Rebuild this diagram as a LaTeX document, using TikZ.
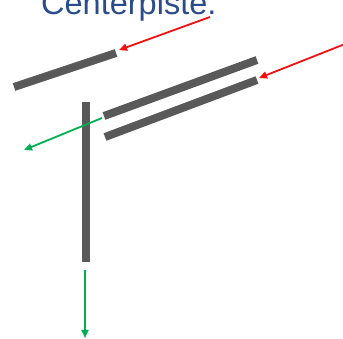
\documentclass[tikz,border=0pt]{standalone}
\usepackage{fontspec}
\setmainfont{Liberation Sans}
\usetikzlibrary{arrows.meta}
\definecolor{titleblue}{HTML}{2B4C8C}
\definecolor{bargray}{HTML}{595959}
\definecolor{arrred}{HTML}{F01010}
\definecolor{arrgreen}{HTML}{00B050}
\begin{document}
\begin{tikzpicture}[x=1pt,y=-1pt,
  bar/.style={line width=8pt,bargray},
  redarr/.style={line width=1.8pt,arrred,-{Triangle[length=8pt,width=7pt]}},
  greenarr/.style={line width=1.8pt,arrgreen,-{Triangle[length=8pt,width=7pt]}}]
\useasboundingbox (0,0) rectangle (343,339);
\clip (0,0) rectangle (343,339);
\node[anchor=base west,inner sep=0pt,text=titleblue,font=\fontsize{32.5}{36}\selectfont] (title) at (41,15) {Centerpiste.};
% bars
\draw[bar] (14,87) -- (116,53);
\draw[bar] (104,116) -- (257,60);
\draw[bar] (105,137) -- (257,80);
\draw[bar] (86,102) -- (86,262);
% arrows
\coordinate (r1s) at (210,17); \coordinate (r1e) at (119,50);
\coordinate (r2s) at (345,44); \coordinate (r2e) at (259,78);
\coordinate (g1s) at (102,118); \coordinate (g1e) at (24,150);
\coordinate (g2s) at (85,270); \coordinate (g2e) at (85,338);
\draw[redarr] (r1s) -- (r1e);
\draw[redarr] (r2s) -- (r2e);
\draw[greenarr] (g1s) -- (g1e);
\draw[greenarr] (g2s) -- (g2e);
\end{tikzpicture}
\end{document}
